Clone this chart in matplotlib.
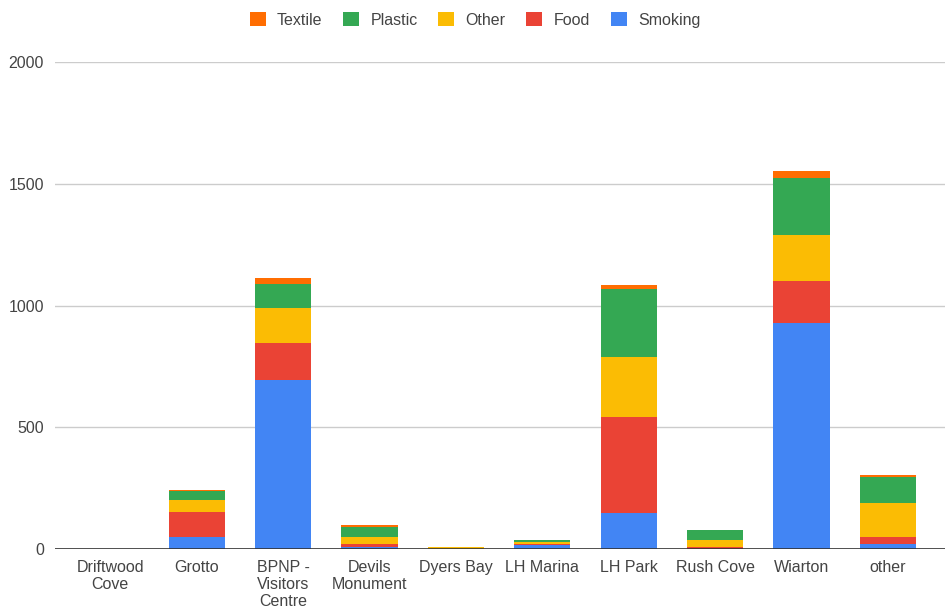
import matplotlib
matplotlib.use('Agg')
import matplotlib.pyplot as plt
import numpy as np

plt.rcParams['font.family'] = ['Liberation Sans', 'DejaVu Sans']

# Data
locations = ['Driftwood\nCove', 'Grotto', 'BPNP -\nVisitors\nCentre', 'Devils\nMonument', 'Dyers Bay',
             'LH Marina', 'LH Park', 'Rush Cove', 'Wiarton', 'other']
smoking = [0, 49, 694, 8, 0, 15, 148, 2, 928, 21]
food = [0, 103, 152, 11, 0, 7, 394, 6, 173, 30]
other = [0, 49, 144, 30, 7, 8, 247, 30, 189, 137]
plastic = [0, 37, 98, 43, 0, 7, 279, 41, 234, 109]
textile = [0, 4, 25, 7, 2, 0, 16, 0, 28, 6]

series = [('Smoking', smoking, '#4285F4'),
          ('Food', food, '#EA4335'),
          ('Other', other, '#FBBC04'),
          ('Plastic', plastic, '#34A853'),
          ('Textile', textile, '#FF6D01')]

fig = plt.figure(figsize=(9.5, 6.08), dpi=100)
ax = fig.add_axes([55 / 950, 1 - 549 / 608, 890 / 950, (549 - 62) / 608])

x = np.arange(len(locations))
bottom = np.zeros(len(locations))
handles = {}
for name, vals, col in series:
    vals = np.array(vals, dtype=float)
    h = ax.bar(x, vals, width=0.65, bottom=bottom, color=col, label=name, zorder=3)
    handles[name] = h
    bottom += vals

ax.set_xlim(-0.64, 9.66)
ax.set_ylim(0, 2000)
ax.set_yticks([0, 500, 1000, 1500, 2000])
ax.yaxis.grid(True, color='#cccccc', linewidth=1, zorder=0)
ax.axhline(0, color='#333333', linewidth=1.2, zorder=4)
for s in ax.spines.values():
    s.set_visible(False)
ax.tick_params(axis='both', length=0, labelsize=11.5, labelcolor='#444444')
ax.tick_params(axis='y', pad=8)
ax.tick_params(axis='x', pad=8)
ax.set_xticks(x)
ax.set_xticklabels(locations, linespacing=1.15)

order = ['Textile', 'Plastic', 'Other', 'Food', 'Smoking']
leg = fig.legend([handles[n] for n in order], order, loc='center', bbox_to_anchor=(0.5, 1 - 20 / 608),
                 ncol=5, frameon=False, fontsize=11.5, handlelength=1.0, handleheight=1.0,
                 columnspacing=1.3, handletextpad=0.7)
for t in leg.get_texts():
    t.set_color('#444444')

fig.savefig('out.png', dpi=100)
